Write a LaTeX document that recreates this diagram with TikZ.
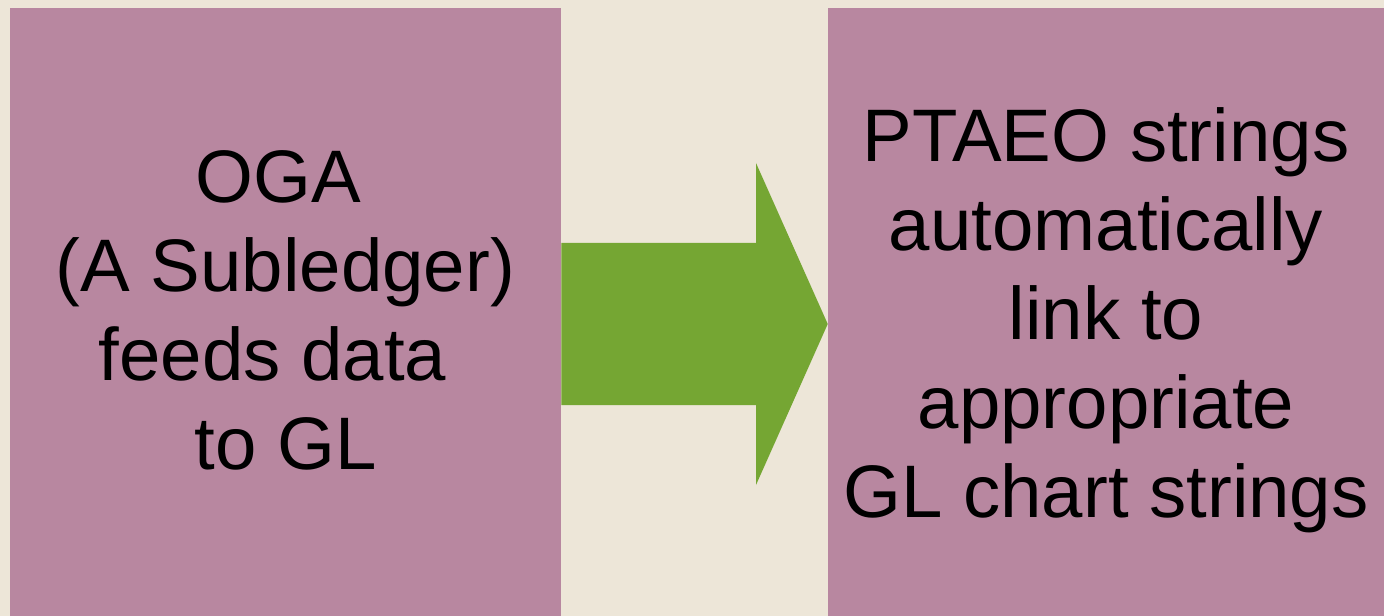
\documentclass[tikz,border=0pt]{standalone}
\usepackage{fontspec}
\setmainfont{Liberation Sans}
\usepackage{tikz}
\usetikzlibrary{positioning}

\definecolor{bgbeige}{RGB}{237,230,216}
\definecolor{boxmauve}{RGB}{184,135,160}
\definecolor{arrowgreen}{RGB}{117,166,51}

\tikzset{
  ledgerbox/.style={fill=boxmauve, draw=none, inner sep=0pt, minimum height=456pt},
  ledgertext/.style={align=center, inner sep=0pt,
    font=\fontsize{55.8}{66.75}\selectfont}
}

\begin{document}
\begin{tikzpicture}[x=0.75pt,y=0.75pt,yscale=-1,xscale=1]
%Shape: Rectangle (background)
\fill[bgbeige] (0,0) rectangle (1384,616);

%Shape: Rectangle [id:oga]
\node[ledgerbox, minimum width=413.25pt] (oga) at (285.5,312) {};
%Shape: Rectangle [id:ptaeo]
\node[ledgerbox, minimum width=417pt] (ptaeo) at (1106,312) {};

%Shape: Right Arrow [id:feed]
\fill[arrowgreen] (oga.east |- 0,243) -- (756,243) -- (756,163)
  -- (ptaeo.west |- 0,324) -- (756,485) -- (756,405)
  -- (oga.east |- 0,405) -- cycle;

% Text Node
\node[ledgertext] (ogatext) at ([yshift=-1.5pt]oga.center)
  {OGA\rule{10.5pt}{0pt}\\(A Subledger)\\feeds data\rule{19.5pt}{0pt}\\to GL};
% Text Node
\node[ledgertext] (ptaeotext) at ([yshift=6pt]ptaeo.center)
  {PTAEO strings\\automatically\\link to\\appropriate\\GL chart strings};

\end{tikzpicture}
\end{document}
